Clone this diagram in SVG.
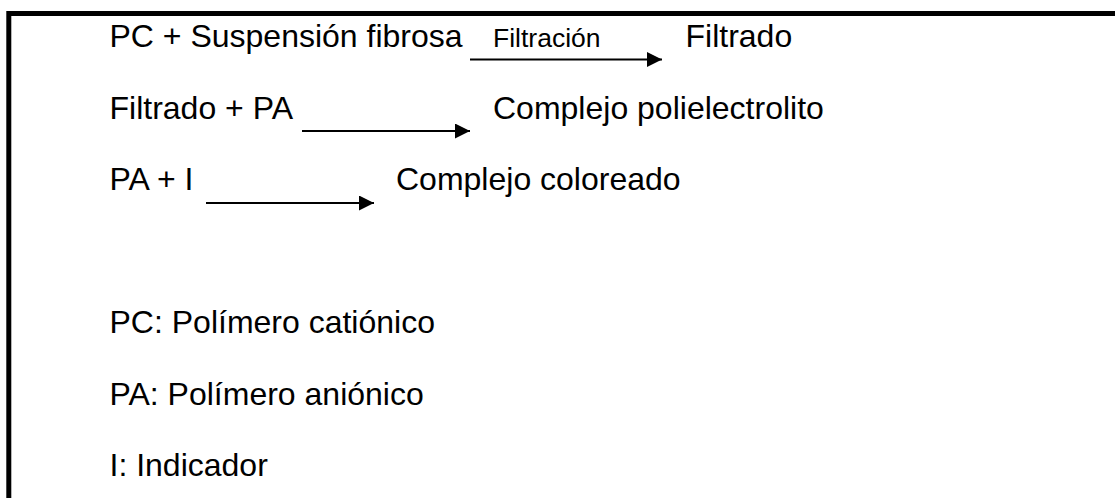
<svg xmlns="http://www.w3.org/2000/svg" width="1115" height="498" viewBox="0 0 1115 498">
<style>
.t{font-family:"Liberation Sans",Arial,sans-serif;font-size:32px;fill:#000}
.s{font-family:"Liberation Sans",Arial,sans-serif;font-size:26.5px;fill:#000}
.ln{stroke:#000;stroke-width:1.8;fill:none}
</style>
<defs>
<marker id="ah" markerWidth="15" markerHeight="15" refX="15" refY="7.5" orient="auto" markerUnits="userSpaceOnUse">
<path d="M0,0 L15,7.5 L0,15 Z" fill="#000"/>
</marker>
</defs>
<rect x="0" y="0" width="1115" height="498" fill="#fff"/>
<path id="frame" d="M8.8,498 V13.5 H1115" stroke="#000" stroke-width="5" fill="none"/>
<g id="connectors">
<line class="ln" x1="470" y1="59.5" x2="662" y2="59.5" marker-end="url(#ah)"/>
<line class="ln" x1="302" y1="131" x2="470" y2="131" marker-end="url(#ah)"/>
<line class="ln" x1="206" y1="203" x2="374" y2="203" marker-end="url(#ah)"/>
</g>
<g id="r1"><text class="t" x="109.5" y="47">PC + Suspensión fibrosa</text></g>
<g id="label1"><text class="s" x="493" y="47">Filtración</text></g>
<g id="p1"><text class="t" x="685.5" y="47">Filtrado</text></g>
<g id="r2"><text class="t" x="109.5" y="118.5">Filtrado + PA</text></g>
<g id="p2"><text class="t" x="493" y="118.5">Complejo polielectrolito</text></g>
<g id="r3"><text class="t" x="109.5" y="190">PA + I</text></g>
<g id="p3"><text class="t" x="396" y="190">Complejo coloreado</text></g>
<g id="legend1"><text class="t" x="109.5" y="333">PC: Polímero catiónico</text></g>
<g id="legend2"><text class="t" x="109.5" y="404.5">PA: Polímero aniónico</text></g>
<g id="legend3"><text class="t" x="109.5" y="476">I: Indicador</text></g>
</svg>
